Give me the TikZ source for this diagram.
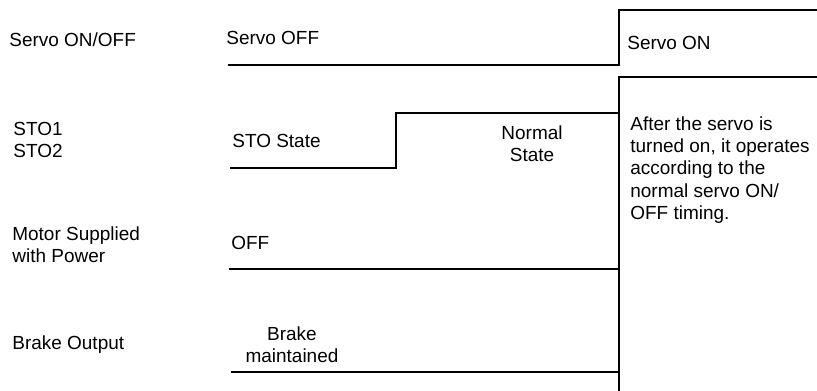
\documentclass[tikz,border=0pt]{standalone}
\usepackage{fontspec}
\setmainfont{Liberation Sans}
\usetikzlibrary{positioning}

\begin{document}
\begin{tikzpicture}[x=0.02cm, y=-0.02cm,
    signal/.style={draw=black, line width=1pt},
    lbl/.style={anchor=west, inner sep=0pt, align=left, font=\fontsize{10.8}{12.6}\selectfont},
    state/.style={inner sep=0pt, align=center, font=\fontsize{10.8}{12.6}\selectfont}
]
    \useasboundingbox (0,0) rectangle (817,391);

    % row names
    \node[lbl] (servoname) at (9,40) {Servo ON/OFF};
    \node[lbl] (stoname) at (13,140) {STO1\\STO2};
    \node[lbl] (motorname) at (12,245) {Motor Supplied\\with Power};
    \node[lbl] (brakename) at (12,345) {Brake Output};

    % signals
    \draw[signal] (228,65) -- (619,65) -- (619,10) -- (817,10);
    \draw[signal] (230,168) -- (396,168) -- (396,113) -- (619,113);
    \draw[signal] (619,391) -- (619,77) -- (817,77);
    \draw[signal] (229,269) -- (619,269);
    \draw[signal] (231,372) -- (619,372);

    % states
    \node[lbl] (servooff) at (226,38) {Servo OFF};
    \node[lbl] (servoon) at (627,43) {Servo ON};
    \node[lbl] (stostate) at (232,141) {STO State};
    \node[state] (normal) at (532,144) {Normal\\State};
    \node[lbl] (motoroff) at (231,243) {OFF};
    \node[state] (brakeheld) at (292,345) {Brake\\maintained};
    \node[lbl] (note) at (630,170) {After the servo is\\turned on, it operates\\according to the\\normal servo ON/\\OFF timing.};
\end{tikzpicture}
\end{document}
